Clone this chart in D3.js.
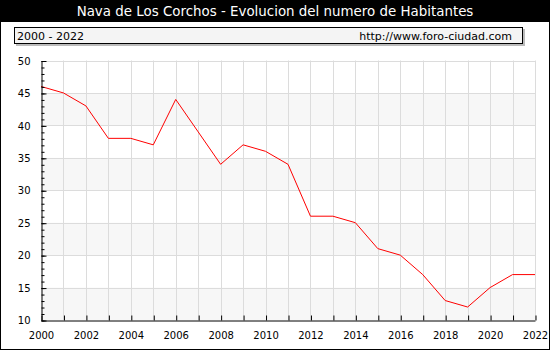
<!DOCTYPE html>
<html>
<head>
<meta charset="utf-8">
<script src="https://cdn.jsdelivr.net/npm/d3@7"></script>
<style>
  html, body { margin: 0; padding: 0; background: #fff; }
  svg { display: block; }
  text { font-family: "DejaVu Sans", Verdana, sans-serif; }
</style>
</head>
<body>
<script>
// Population of Nava de Los Corchos, 2000-2022
const years = d3.range(2000, 2023);
const habitantes = [46, 45, 43, 38, 38, 37, 44, 39, 34, 37, 36, 34, 26, 26, 25, 21, 20, 17, 13, 12, 15, 17, 17];
const yTicks = [10, 15, 20, 25, 30, 35, 40, 45, 50];
const xLabelYears = d3.range(2000, 2023, 2);
const titleText = "Nava de Los Corchos - Evolucion del numero de Habitantes";
const rangeText = "2000 - 2022";
const siteText = "http://www.foro-ciudad.com";

const W = 550, H = 350;
const svg = d3.select("body").append("svg").attr("width", W).attr("height", H);

const x = d3.scaleLinear().domain([2000, 2022]).range([41, 535]);
const y = d3.scaleLinear().domain([10, 50]).range([320, 60.5]);

// background and title bar
svg.append("rect").attr("x", 0).attr("y", 0).attr("width", W).attr("height", H).attr("fill", "#fff");
svg.append("rect").attr("x", 0).attr("y", 0).attr("width", W).attr("height", 22).attr("fill", "#000");
svg.append("text").attr("x", W / 2).attr("y", 16).attr("text-anchor", "middle")
  .attr("fill", "#fff").style("font-size", "13.4px").text(titleText);

// period / source box with shadow
svg.append("rect").attr("x", 16).attr("y", 29).attr("width", 509).attr("height", 17).attr("fill", "#bbb");
svg.append("rect").attr("x", 14.5).attr("y", 27.5).attr("width", 508).attr("height", 16)
  .attr("fill", "#f4f4f4").attr("stroke", "#000").attr("stroke-width", 1);
svg.append("text").attr("x", 17).attr("y", 40).style("font-size", "11px").attr("fill", "#000").text(rangeText);
svg.append("text").attr("x", 512).attr("y", 40).attr("text-anchor", "end").style("font-size", "11px").attr("fill", "#000").text(siteText);

// alternating horizontal bands
const plot = svg.append("g");
const bands = d3.range(0, yTicks.length - 1).filter(i => i % 2 === 0);
plot.selectAll("rect.band").data(bands).join("rect").attr("class", "band")
  .attr("x", x(2000)).attr("width", x(2022) - x(2000))
  .attr("y", i => y(yTicks[i + 1])).attr("height", i => y(yTicks[i]) - y(yTicks[i + 1]))
  .attr("fill", "#f7f7f7");

// grid
plot.selectAll("line.vg").data(years.slice(1)).join("line").attr("class", "vg")
  .attr("x1", d => Math.round(x(d)) + 0.5).attr("x2", d => Math.round(x(d)) + 0.5)
  .attr("y1", y(50)).attr("y2", y(10)).attr("stroke", "#dcdcdc").attr("stroke-width", 1);
plot.selectAll("line.hg").data(yTicks.slice(1)).join("line").attr("class", "hg")
  .attr("x1", x(2000)).attr("x2", x(2022))
  .attr("y1", d => Math.round(y(d)) + 0.5).attr("y2", d => Math.round(y(d)) + 0.5)
  .attr("stroke", "#dcdcdc").attr("stroke-width", 1);

// data line
const line = d3.line().x((d, i) => x(years[i])).y(d => y(d));
svg.append("path").datum(habitantes).attr("d", line)
  .attr("fill", "none").attr("stroke", "#ff0000").attr("stroke-width", 1);

// y axis: major ticks with labels, minor ticks every unit
const yAxis = d3.axisLeft(y).tickValues(yTicks).tickSizeInner(-5).tickSizeOuter(0).tickPadding(11);
const gy = svg.append("g").attr("transform", "translate(" + (x(2000) + 0.5) + ",0.5)").call(yAxis);
const yMinor = d3.axisLeft(y).tickValues(d3.range(10, 51)).tickSizeInner(-3).tickSizeOuter(0).tickFormat("");
svg.append("g").attr("transform", "translate(" + (x(2000) + 0.5) + ",0.5)").call(yMinor).select(".domain").remove();

// x axis: ticks every year, labels on even years
const xAxis = d3.axisBottom(x).tickValues(years).tickSizeInner(-5).tickSizeOuter(0).tickPadding(11)
  .tickFormat(d => xLabelYears.includes(d) ? String(d) : "");
const gx = svg.append("g").attr("transform", "translate(0," + (y(10) + 0.5) + ")").call(xAxis);

[gy, gx].forEach(g => {
  g.selectAll("text").style("font-size", "10px").attr("fill", "#000");
  g.selectAll("line").attr("stroke", "#000");
  g.select(".domain").attr("stroke", "#000");
});
gx.selectAll(".tick line").attr("transform", "translate(0.5,0)");

// outer frame
svg.append("rect").attr("x", 0.5).attr("y", 0.5).attr("width", W - 1).attr("height", H - 1)
  .attr("fill", "none").attr("stroke", "#000");
</script>
</body>
</html>
